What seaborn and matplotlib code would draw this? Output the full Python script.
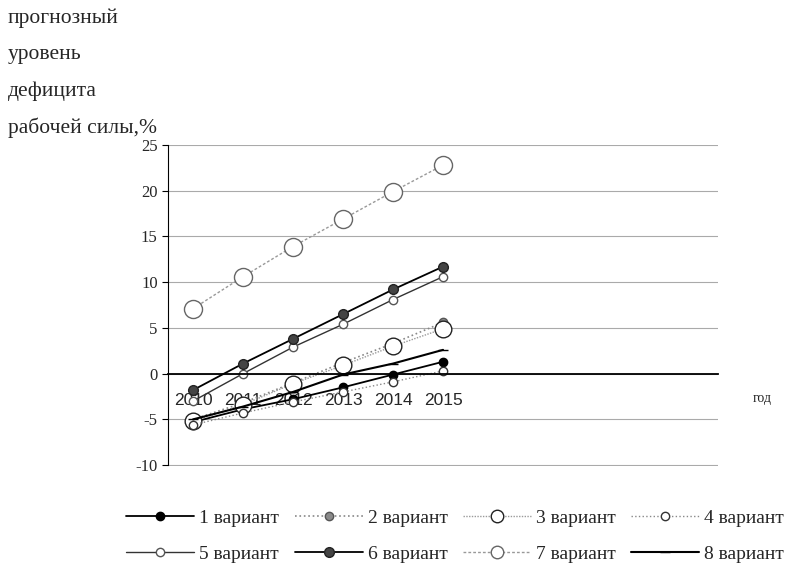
import seaborn as sns
import matplotlib.pyplot as plt
import pandas as pd

# years and values for each variant
years = ["2010", "2011", "2012", "2013", "2014", "2015"]
v1 = [-5.3, -3.9, -2.8, -1.5, -0.1, 1.3]
v2 = [-5.0, -3.2, -1.0, 1.2, 3.3, 5.6]
v3 = [-5.2, -3.4, -1.1, 0.9, 3.0, 4.9]
v4 = [-5.6, -4.3, -3.1, -2.0, -0.9, 0.3]
v5 = [-3.0, 0.0, 2.9, 5.4, 8.1, 10.6]
v6 = [-1.8, 1.1, 3.8, 6.5, 9.2, 11.7]
v7 = [7.1, 10.6, 13.9, 16.9, 19.9, 22.8]
v8 = [-5.0, -3.6, -2.0, -0.1, 1.1, 2.6]
labels = ["1 вариант", "2 вариант", "3 вариант", "4 вариант",
          "5 вариант", "6 вариант", "7 вариант", "8 вариант"]

sns.set_style("white")
plt.rcParams["font.family"] = ["Liberation Serif", "DejaVu Serif"]
plt.rcParams["axes.unicode_minus"] = False

fig = plt.figure(figsize=(7.9, 5.65), dpi=100)
ax = fig.add_axes([0.2127, 0.1752, 0.6962, 0.5682])

x = list(range(len(years)))
# line style, colour, width, marker, marker size, face, edge
styles = [
    ("-", "black", 1.3, "o", 6, "black", "black"),
    (":", "#888888", 1.2, "o", 6, "#8a8a8a", "#555555"),
    ((0, (1, 1)), "#9a9a9a", 1.0, "o", 12, "white", "#222222"),
    (":", "#888888", 1.0, "o", 6, "white", "#333333"),
    ("-", "#333333", 1.0, "o", 6, "white", "#555555"),
    ("-", "black", 1.3, "o", 7, "#444444", "#222222"),
    ((0, (2, 1.5)), "#999999", 1.0, "o", 13, "white", "#666666"),
    ("-", "black", 1.5, "_", 7, "black", "black"),
]
series = [v1, v2, v3, v4, v5, v6, v7, v8]
handles = []
for vals, lab, st in zip(series, labels, styles):
    ls, col, lw, mk, ms, fc, ec = st
    df = pd.DataFrame({"x": x, "y": vals})
    sns.lineplot(data=df, x="x", y="y", ax=ax, color=col, linestyle=ls,
                 linewidth=lw, marker=mk, markersize=ms, markerfacecolor=fc,
                 markeredgecolor=ec, markeredgewidth=1.0, label=lab, legend=False)
    handles.append(ax.lines[-1])

ax.set_xlim(-0.5, 10.5)
ax.set_ylim(-10.1, 25)
ax.set_yticks(range(-10, 26, 5))
ax.yaxis.grid(True, color="#aaaaaa", linewidth=0.8)
ax.set_xlabel("")
ax.set_ylabel("")

for s in ["top", "right"]:
    ax.spines[s].set_visible(False)
ax.spines["left"].set_color("black")
ax.spines["left"].set_bounds(-10, 25)
ax.spines["bottom"].set_color("black")
ax.spines["bottom"].set_position(("data", 0))
ax.spines["bottom"].set_linewidth(1.3)

# ticks on category borders, labels on category centres
ax.set_xticks([i + 0.5 for i in range(11)])
ax.set_xticklabels([])
ax.set_xticks(x, minor=True)
ax.set_xticklabels(years, minor=True, family=["Liberation Sans Narrow", "Liberation Sans"],
                   fontsize=12.5)
ax.tick_params(axis="x", which="major", direction="out", length=5, color="black")
ax.tick_params(axis="x", which="minor", length=0, pad=14)
ax.tick_params(axis="y", direction="out", length=4, color="black", labelsize=12, left=True)

fig.text(0.953, 0.295, "год", fontsize=10, ha="left", va="center")

for i, t in enumerate(["прогнозный", "уровень", "дефицита", "рабочей силы,%"]):
    fig.text(0.01, 1 - (18 + i * 36.5) / 565, t, fontsize=15.5, ha="left", va="center")

order = [0, 4, 1, 5, 2, 6, 3, 7]
leg = fig.legend([handles[i] for i in order], [labels[i] for i in order],
                 loc="center", bbox_to_anchor=(0.576, 1 - 536 / 565), ncol=4, frameon=False,
                 fontsize=14, handlelength=3.5, columnspacing=0.8, handletextpad=0.25,
                 labelspacing=0.95)
for h in leg.legend_handles:
    if h.get_markersize() > 10:
        h.set_markersize(9)

fig.savefig("out.png", dpi=100)
